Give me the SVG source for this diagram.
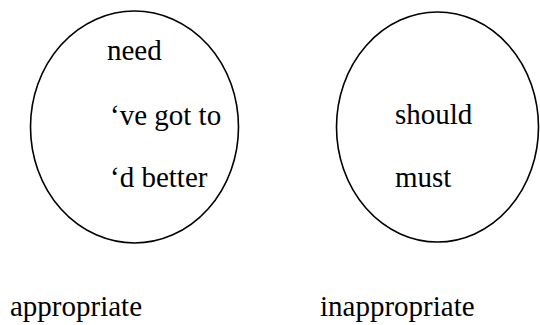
<svg xmlns="http://www.w3.org/2000/svg" width="540" height="325" viewBox="0 0 540 325">
<style>
.e{fill:none;stroke:#000;stroke-width:1.6}
.t{font-family:'Liberation Serif','DejaVu Serif',serif;font-size:29px;fill:#000}
</style>
<rect width="540" height="325" fill="#fff"/>
<g id="appropriate-set">
<ellipse class="e" cx="134.5" cy="127" rx="104" ry="116"/>
<text class="t" x="107" y="60">need</text>
<text class="t" x="110" y="125">‘ve got to</text>
<text class="t" x="110" y="187">‘d better</text>
</g>
<g id="inappropriate-set">
<ellipse class="e" cx="437.5" cy="127" rx="101" ry="115"/>
<text class="t" x="395" y="124">should</text>
<text class="t" x="395" y="187">must</text>
</g>
<g id="labels">
<text class="t" x="10" y="316">appropriate</text>
<text class="t" x="320" y="316">inappropriate</text>
</g>
<g id="connectors"/>
</svg>
